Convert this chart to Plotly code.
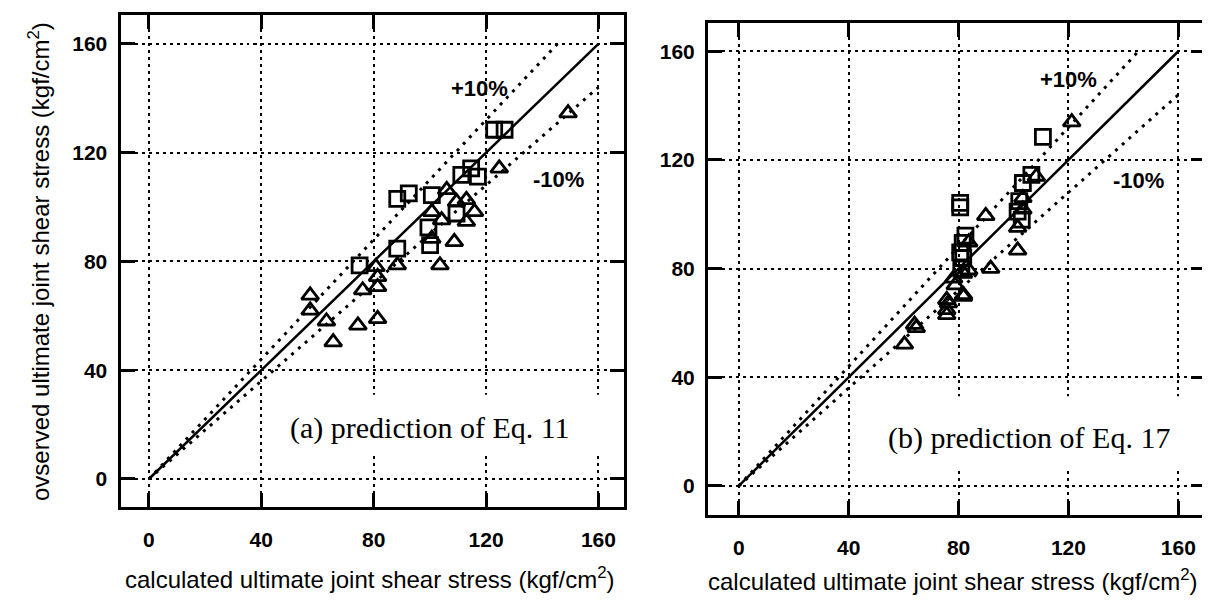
import plotly.graph_objects as go

# ---- data ----
tick_vals = [0, 40, 80, 120, 160]
tick_text = ["0", "40", "80", "120", "160"]

# panel (a): prediction of Eq. 11
a_sq_x = [75.0, 88.4, 88.4, 92.5, 100.7, 99.5, 100.1, 109.5, 111.2, 114.7, 117.1, 122.9, 126.6]
a_sq_y = [78.5, 84.7, 103.0, 105.0, 104.4, 92.5, 86.0, 97.6, 111.8, 114.2, 111.2, 128.4, 128.4]
a_tr_x = [57.4, 57.4, 63.2, 65.6, 74.4, 81.4, 76.1, 81.4, 81.4, 80.8, 88.4, 103.6, 100.7,
          108.7, 100.7, 104.2, 106.0, 109.5, 113.0, 115.9, 113.0, 124.7, 149.2]
a_tr_y = [67.5, 62.0, 58.0, 50.3, 56.5, 58.9, 69.4, 70.6, 74.3, 78.0, 78.6, 78.6, 88.4,
          87.2, 98.2, 95.2, 106.3, 101.9, 102.6, 98.2, 94.6, 114.2, 134.5]

# panel (b): prediction of Eq. 17
b_sq_x = [80.6, 80.6, 82.5, 81.5, 80.6, 81.7, 81.0, 102.1, 101.5, 103.4, 103.0, 106.5, 110.7]
b_sq_y = [104.2, 102.5, 92.1, 89.5, 86.0, 83.9, 80.0, 104.8, 101.0, 111.5, 98.0, 114.5, 128.5]
b_tr_x = [60.3, 64.0, 64.6, 75.7, 75.7, 76.3, 75.7, 78.8, 81.8, 81.8, 78.2, 81.8, 83.7, 91.7,
          83.7, 89.9, 101.5, 101.5, 103.4, 103.4, 108.3, 121.2]
b_tr_y = [52.1, 59.4, 58.2, 63.0, 64.8, 67.3, 68.5, 73.9, 69.7, 70.3, 76.4, 78.2, 79.4, 80.0,
          89.7, 99.4, 86.7, 95.1, 101.8, 106.0, 113.9, 133.9]

# reference lines: y = k * x
ref_x = [0, 160]
plus_x = [0, 160 / 1.1]
factor_solid = 1.0
factor_plus = 1.1
factor_minus = 0.9

W, H = 1210, 601
SANS = "Liberation Sans, Arial, sans-serif"
SERIF = "Liberation Serif, Times New Roman, serif"

fig = go.Figure()

def add_panel(xa, ya, sqx, sqy, trx, try_):
    fig.add_trace(go.Scatter(x=ref_x, y=[factor_solid * v for v in ref_x], mode="lines",
                             line=dict(color="black", width=2.5), xaxis=xa, yaxis=ya,
                             showlegend=False, hoverinfo="skip"))
    fig.add_trace(go.Scatter(x=plus_x, y=[factor_plus * v for v in plus_x], mode="lines",
                             line=dict(color="black", width=3, dash="3px,6px"), xaxis=xa, yaxis=ya,
                             showlegend=False, hoverinfo="skip"))
    fig.add_trace(go.Scatter(x=ref_x, y=[factor_minus * v for v in ref_x], mode="lines",
                             line=dict(color="black", width=3, dash="3px,6px"), xaxis=xa, yaxis=ya,
                             showlegend=False, hoverinfo="skip"))
    fig.add_trace(go.Scatter(x=sqx, y=sqy, mode="markers",
                             marker=dict(symbol="square-open", size=15, color="black",
                                         line=dict(color="black", width=2.8)),
                             xaxis=xa, yaxis=ya, showlegend=False))
    fig.add_trace(go.Scatter(x=trx, y=try_, mode="markers",
                             marker=dict(symbol="triangle-up-open", size=15, color="black",
                                         line=dict(color="black", width=2.8)),
                             xaxis=xa, yaxis=ya, showlegend=False))

add_panel("x", "y", a_sq_x, a_sq_y, a_tr_x, a_tr_y)
add_panel("x2", "y2", b_sq_x, b_sq_y, b_tr_x, b_tr_y)

axis_common = dict(
    showline=True, linewidth=3, linecolor="black", mirror="ticks",
    ticks="inside", ticklen=14, tickwidth=3, tickcolor="black",
    showgrid=True, gridcolor="black", gridwidth=2, griddash="3px,4px",
    zeroline=False, tickvals=tick_vals, ticktext=tick_text,
    tickfont=dict(family=SANS, size=21, color="black", weight="bold"),
)
xcommon = dict(axis_common, ticklabelstandoff=12)
ycommon = dict(axis_common, ticklabelstandoff=6)

fig.update_layout(
    width=W, height=H,
    margin=dict(l=0, r=0, t=0, b=0),
    paper_bgcolor="white", plot_bgcolor="white",
    xaxis=dict(domain=[112.5 / W, 616 / W], range=[-10.1, 169.1], anchor="y", **xcommon),
    yaxis=dict(domain=[1 - 499 / H, 1 - 6.7 / H], range=[-10.3, 170.7], anchor="x", **ycommon),
    xaxis2=dict(domain=[700 / W, 1197 / W], range=[-11.2, 169.7], anchor="y2", **xcommon),
    yaxis2=dict(domain=[1 - 507 / H, 1 - 15 / H], range=[-10.7, 170.4], anchor="x2", **ycommon),
)

# white patches behind the captions (gridlines are interrupted there)
fig.add_shape(type="rect", xref="x", yref="y", x0=55, x1=166, y0=9.6, y1=31,
              fillcolor="white", line=dict(width=0), layer="between")
fig.add_shape(type="rect", xref="x2", yref="y2", x0=55, x1=166, y0=5.5, y1=33,
              fillcolor="white", line=dict(width=0), layer="between")

ann = []
for xr, yr, px_, py_, txt in [("x", "y", 117.7, 143.4, "+10%"), ("x", "y", 145.7, 110.0, "-10%"),
                              ("x2", "y2", 120.0, 149.5, "+10%"), ("x2", "y2", 145.6, 112.3, "-10%")]:
    ann.append(dict(x=px_, y=py_, xref=xr, yref=yr, text=txt, showarrow=False,
                    xanchor="center", yanchor="middle",
                    font=dict(family=SANS, size=22, color="black", weight="bold")))
ann.append(dict(x=100, y=18.8, xref="x", yref="y", text="(a) prediction of Eq. 11", showarrow=False,
                xanchor="center", yanchor="middle",
                font=dict(family=SERIF, size=30, color="black")))
ann.append(dict(x=105.8, y=17.6, xref="x2", yref="y2", text="(b) prediction of Eq. 17", showarrow=False,
                xanchor="center", yanchor="middle",
                font=dict(family=SERIF, size=30, color="black")))
ann.append(dict(x=362 / W, y=1 - 570 / H, xref="paper", yref="paper",
                text="calculated ultimate joint shear stress (kgf/cm<sup>2</sup>)", showarrow=False,
                xanchor="center", yanchor="middle",
                font=dict(family=SANS, size=24, color="black")))
ann.append(dict(x=945 / W, y=1 - 572 / H, xref="paper", yref="paper",
                text="calculated ultimate joint shear stress (kgf/cm<sup>2</sup>)", showarrow=False,
                xanchor="center", yanchor="middle",
                font=dict(family=SANS, size=24, color="black")))
ann.append(dict(x=31 / W, y=1 - 254 / H, xref="paper", yref="paper", textangle=-90,
                text="ovserved ultimate joint shear stress (kgf/cm<sup>2</sup>)", showarrow=False,
                xanchor="center", yanchor="middle",
                font=dict(family=SANS, size=24, color="black")))
fig.update_layout(annotations=ann)

fig.write_html("out.html")
